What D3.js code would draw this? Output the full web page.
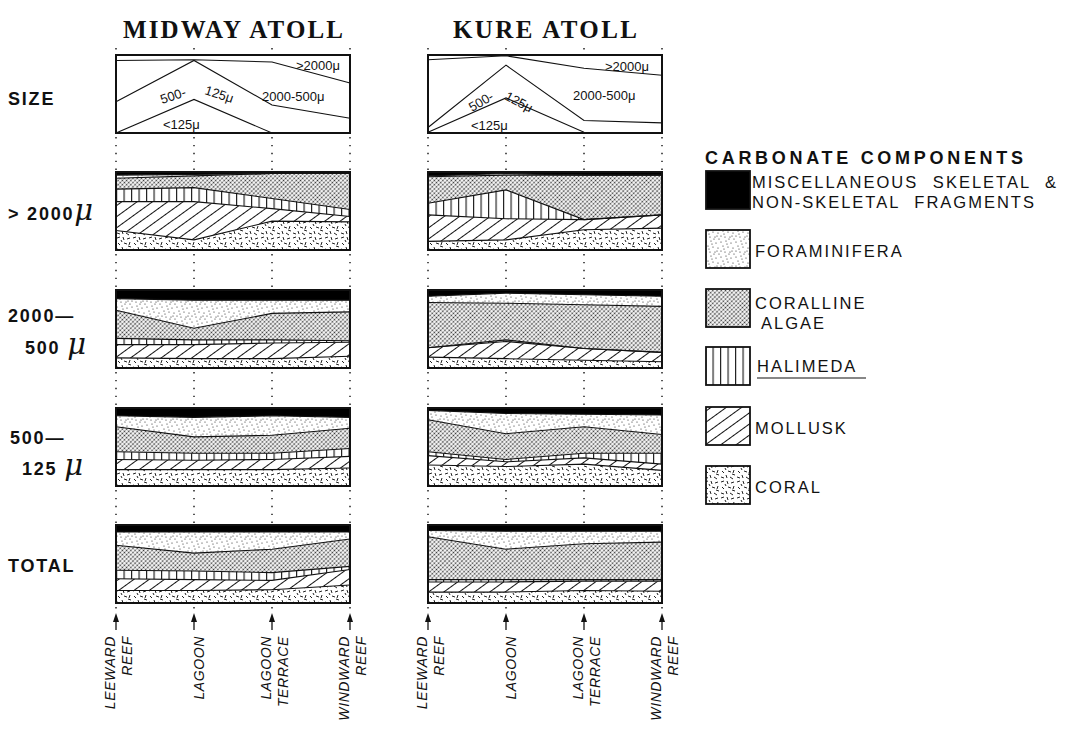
<!DOCTYPE html>
<html>
<head>
<meta charset="utf-8">
<script src="https://cdn.jsdelivr.net/npm/d3@7"></script>
<style>
body { margin: 0; background: #fff; }
svg { display: block; }
text { font-family: "Liberation Sans", "DejaVu Sans", sans-serif; fill: #111; }
</style>
</head>
<body>
<div id="chart"></div>
<script>
// stations along each transect
var sites = ["LEEWARD REEF", "LAGOON", "LAGOON TERRACE", "WINDWARD REEF"];
var atolls = ["MIDWAY ATOLL", "KURE ATOLL"];
// components, bottom to top of each panel
var components = ["coral", "mollusk", "halimeda", "coralline", "foram", "misc"];
var sizeKeys = ["<125", "500-125", "2000-500", ">2000"];

// size fractions (%), bottom to top: <125, 500-125, 2000-500, >2000
var midwaySize = [[0, 43, 0, 0], [40, 50, 36, 19], [53, 1, 55, 45], [7, 6, 9, 36]];
var kureSize = [[1, 45, 1, 0], [6, 42, 15, 13], [87, 12, 67, 61], [6, 1, 17, 26]];

// composition (%), rows = coral, mollusk, halimeda, coralline, foram, misc
var midwayGt2000 = [[25, 13, 37, 36], [37, 49, 16, 7], [16, 18, 13, 9], [14, 15, 32, 46], [4, 2, 0, 0], [4, 3, 2, 2]];
var kureGt2000 = [[11, 13, 26, 28], [34, 27, 13, 17], [15, 37, 0, 0], [34, 19, 57, 51], [1, 2, 0, 0], [5, 2, 4, 4]];
var midway2000to500 = [[13, 12, 12, 15], [17, 18, 20, 18], [8, 6, 4, 2], [36, 15, 34, 37], [15, 36, 17, 15], [11, 13, 13, 13]];
var kure2000to500 = [[14, 12, 10, 8], [12, 22, 15, 12], [0, 2, 0, 0], [58, 47, 56, 59], [8, 13, 13, 13], [8, 4, 6, 8]];
var midway500to125 = [[21, 21, 21, 23], [13, 12, 13, 15], [10, 9, 8, 10], [32, 21, 23, 26], [14, 25, 25, 14], [10, 12, 10, 12]];
var kure500to125 = [[27, 25, 28, 20], [12, 6, 8, 8], [5, 3, 6, 14], [41, 33, 34, 24], [12, 26, 16, 25], [3, 7, 8, 9]];
var midwayTotal = [[16, 16, 17, 23], [15, 14, 12, 20], [11, 11, 10, 4], [32, 23, 30, 35], [17, 27, 22, 9], [9, 9, 9, 9]];
var kureTotal = [[14, 14, 16, 15], [13, 13, 12, 13], [3, 3, 2, 2], [55, 39, 46, 48], [8, 23, 16, 14], [7, 8, 8, 8]];

var legendLabels = [["MISCELLANEOUS SKELETAL &", "NON-SKELETAL FRAGMENTS"], ["FORAMINIFERA"], ["CORALLINE", "ALGAE"], ["HALIMEDA"], ["MOLLUSK"], ["CORAL"]];
var legendKeys = ["misc", "foram", "coralline", "halimeda", "mollusk", "coral"];

var W = 1083, H = 739;
var panelW = 234, panelH = 78;
var atollX = [116, 428];
var rowY = [55, 172, 290, 408, 525];

var svg = d3.select("#chart").append("svg")
	.attr("width", W)
	.attr("height", H);

// ---- fill patterns ----
var defs = svg.append("defs");

var pFor = defs.append("pattern").attr("id", "pat-foram").attr("patternUnits", "userSpaceOnUse")
	.attr("width", 15).attr("height", 15);
pFor.append("rect").attr("width", 15).attr("height", 15).attr("fill", "#fff");
[[1,2],[6,1],[11,3],[3,6],[8,7],[13,8],[1,11],[5,12],[10,12],[14,14],[7,4],[12,11],[4,9],[9,14]].forEach(function(p){
	pFor.append("circle").attr("cx", p[0]).attr("cy", p[1]).attr("r", 0.6).attr("fill", "#222");
});

var pCor = defs.append("pattern").attr("id", "pat-coralline").attr("patternUnits", "userSpaceOnUse")
	.attr("width", 3).attr("height", 3).attr("patternTransform", "rotate(45)");
pCor.append("rect").attr("width", 3).attr("height", 3).attr("fill", "#fff");
pCor.append("circle").attr("cx", 1.5).attr("cy", 1.5).attr("r", 0.9).attr("fill", "#333");

var pHal = defs.append("pattern").attr("id", "pat-halimeda").attr("patternUnits", "userSpaceOnUse")
	.attr("width", 7.5).attr("height", 10);
pHal.append("rect").attr("width", 7.5).attr("height", 10).attr("fill", "#fff");
pHal.append("line").attr("x1", 0.6).attr("x2", 0.6).attr("y1", 0).attr("y2", 10)
	.attr("stroke", "#111").attr("stroke-width", 1.1);

var pMol = defs.append("pattern").attr("id", "pat-mollusk").attr("patternUnits", "userSpaceOnUse")
	.attr("width", 9).attr("height", 9).attr("patternTransform", "rotate(-36)");
pMol.append("rect").attr("width", 9).attr("height", 9).attr("fill", "#fff");
pMol.append("line").attr("x1", 0).attr("x2", 9).attr("y1", 0.5).attr("y2", 0.5)
	.attr("stroke", "#111").attr("stroke-width", 1);

var pCrl = defs.append("pattern").attr("id", "pat-coral").attr("patternUnits", "userSpaceOnUse")
	.attr("width", 16).attr("height", 16);
pCrl.append("rect").attr("width", 16).attr("height", 16).attr("fill", "#fff");
[[1,2,4,1],[7,1,8,4],[11,3,14,2],[2,7,4,9],[8,7,11,8],[14,6,13,9],[1,13,4,14],[6,11,7,14],[10,13,13,15],[5,4,6,6],[12,10,15,11]].forEach(function(s){
	pCrl.append("line").attr("x1", s[0]).attr("y1", s[1]).attr("x2", s[2]).attr("y2", s[3])
		.attr("stroke", "#222").attr("stroke-width", 1);
});

function fillOf(key){
	return key == "misc" ? "#000" : "url(#pat-" + key + ")";
}

function toRows(matrix, keys){
	return sites.map(function(s, i){
		var r = {site: s};
		keys.forEach(function(k, j){ r[k] = matrix[j][i]; });
		return r;
	});
}

var x = d3.scalePoint().domain(sites).range([0, panelW]);
var y = d3.scaleLinear().domain([0, 100]).range([panelH, 0]);

function drawComposition(g, matrix){
	var series = d3.stack().keys(components)(toRows(matrix, components));
	var area = d3.area()
		.x(function(d){ return x(d.data.site); })
		.y0(function(d){ return y(d[0]); })
		.y1(function(d){ return y(d[1]); });
	var line = d3.line()
		.x(function(d){ return x(d.data.site); })
		.y(function(d){ return y(d[1]); });
	g.selectAll("path.layer").data(series).enter().append("path")
		.attr("class", "layer")
		.attr("d", area)
		.attr("fill", function(d){ return fillOf(d.key); });
	g.selectAll("path.edge").data(series.slice(0, -1)).enter().append("path")
		.attr("class", "edge")
		.attr("d", line)
		.attr("fill", "none")
		.attr("stroke", "#111")
		.attr("stroke-width", 1.1);
	g.append("rect")
		.attr("width", panelW).attr("height", panelH)
		.attr("fill", "none").attr("stroke", "#111").attr("stroke-width", 2);
}

function drawSize(g, matrix, lab){
	var series = d3.stack().keys(sizeKeys)(toRows(matrix, sizeKeys));
	var line = d3.line()
		.x(function(d){ return x(d.data.site); })
		.y(function(d){ return y(d[1]); });
	g.selectAll("path.edge").data(series.slice(0, -1)).enter().append("path")
		.attr("d", line)
		.attr("fill", "none")
		.attr("stroke", "#111")
		.attr("stroke-width", 1.1);
	g.append("rect")
		.attr("width", panelW).attr("height", panelH)
		.attr("fill", "none").attr("stroke", "#111").attr("stroke-width", 2);
	lab.forEach(function(t){
		g.append("text")
			.attr("transform", "translate(" + t[1] + "," + t[2] + ") rotate(" + t[3] + ")")
			.attr("font-size", 13)
			.text(t[0]);
	});
}

var sizeLabels = [
	[[">2000μ", 180, 15, 0], ["2000-500μ", 146, 46, 0], ["500-", 46, 49, -18], ["125μ", 88, 39, 18], ["<125μ", 47, 74, 0]],
	[[">2000μ", 177, 16, 0], ["2000-500μ", 145, 45, 0], ["500-", 44, 57, -30], ["125μ", 76, 44, 28], ["<125μ", 43, 75, 0]]
];

var panels = [
	[midwayGt2000, midway2000to500, midway500to125, midwayTotal],
	[kureGt2000, kure2000to500, kure500to125, kureTotal]
];
var sizeData = [midwaySize, kureSize];

atolls.forEach(function(name, a){
	var ox = atollX[a];

	// dotted guides between panels
	sites.forEach(function(s){
		var cx = ox + x(s);
		var gaps = [[44, rowY[0]]];
		for (var r = 0; r < rowY.length - 1; r++) gaps.push([rowY[r] + panelH, rowY[r + 1]]);
		gaps.push([rowY[4] + panelH, 612]);
		gaps.forEach(function(gp){
			svg.append("line")
				.attr("x1", cx).attr("x2", cx).attr("y1", gp[0] + 4).attr("y2", gp[1] - 2)
				.attr("stroke", "#111").attr("stroke-width", 1.4)
				.attr("stroke-dasharray", "1.4,6.5");
		});
		// arrow
		svg.append("line").attr("x1", cx).attr("x2", cx).attr("y1", 616).attr("y2", 630)
			.attr("stroke", "#111").attr("stroke-width", 1.3);
		svg.append("path").attr("d", "M" + (cx - 3) + ",622 L" + cx + ",613 L" + (cx + 3) + ",622 Z")
			.attr("fill", "#111");
	});

	svg.append("text")
		.attr("x", ox + panelW / 2).attr("y", 38)
		.attr("text-anchor", "middle")
		.attr("font-size", 25)
		.attr("font-weight", "bold")
		.style("font-family", "'Liberation Serif', 'DejaVu Serif', serif")
		.attr("textLength", a == 0 ? 220 : 184)
		.text(name);

	drawSize(svg.append("g").attr("transform", "translate(" + ox + "," + rowY[0] + ")"), sizeData[a], sizeLabels[a]);
	panels[a].forEach(function(m, i){
		drawComposition(svg.append("g").attr("transform", "translate(" + ox + "," + rowY[i + 1] + ")"), m);
	});

	// station labels
	sites.forEach(function(s){
		var cx = ox + x(s);
		var parts = s.split(" ");
		var bl = parts.length == 1 ? [cx + 10] : [cx - 1, cx + 16];
		parts.forEach(function(p, k){
			svg.append("text")
				.attr("transform", "translate(" + bl[k] + ",636) rotate(-90)")
				.attr("text-anchor", "end")
				.attr("font-size", 14)
				.attr("font-style", "italic")
				.attr("letter-spacing", 0.6)
				.text(p);
		});
	});
});

// row labels
var rowText = svg.append("g").attr("font-size", 18).attr("font-weight", "bold").attr("letter-spacing", 1.8);
function mu(t){
	t.append("tspan").attr("font-size", 29).attr("font-style", "italic").attr("font-weight", "normal")
		.style("font-family", "'DejaVu Serif', serif").attr("letter-spacing", 0).text("μ");
}
rowText.append("text").attr("x", 8).attr("y", 105).text("SIZE");
mu(rowText.append("text").attr("x", 8).attr("y", 220).text("> 2000"));
rowText.append("text").attr("x", 8).attr("y", 322).text("2000—");
mu(rowText.append("text").attr("x", 25).attr("y", 354).text("500 "));
rowText.append("text").attr("x", 10).attr("y", 444).text("500—");
mu(rowText.append("text").attr("x", 22).attr("y", 475).text("125 "));
rowText.append("text").attr("x", 8).attr("y", 572).text("TOTAL");

// legend
var lg = svg.append("g");
lg.append("text").attr("x", 705).attr("y", 164)
	.attr("font-size", 18).attr("font-weight", "bold")
	.attr("textLength", 318)
	.text("CARBONATE COMPONENTS");
var boxY = [171, 230, 289, 347, 407, 466];
var textY = [[188, 208], [257], [309, 329], [372], [434], [493]];
var textX = [[752, 752], [755], [755, 761], [757], [755], [755]];
legendKeys.forEach(function(k, i){
	lg.append("rect")
		.attr("x", 706).attr("y", boxY[i]).attr("width", 44).attr("height", 38)
		.attr("fill", fillOf(k)).attr("stroke", "#111").attr("stroke-width", 1.8);
	legendLabels[i].forEach(function(t, j){
		lg.append("text")
			.attr("x", textX[i][j]).attr("y", textY[i][j])
			.attr("font-size", 16.5)
			.attr("letter-spacing", 2)
			.attr("word-spacing", 8)
			.text(t);
	});
});
lg.append("line").attr("x1", 757).attr("x2", 866).attr("y1", 378).attr("y2", 378)
	.attr("stroke", "#111").attr("stroke-width", 1.2);
</script>
</body>
</html>
